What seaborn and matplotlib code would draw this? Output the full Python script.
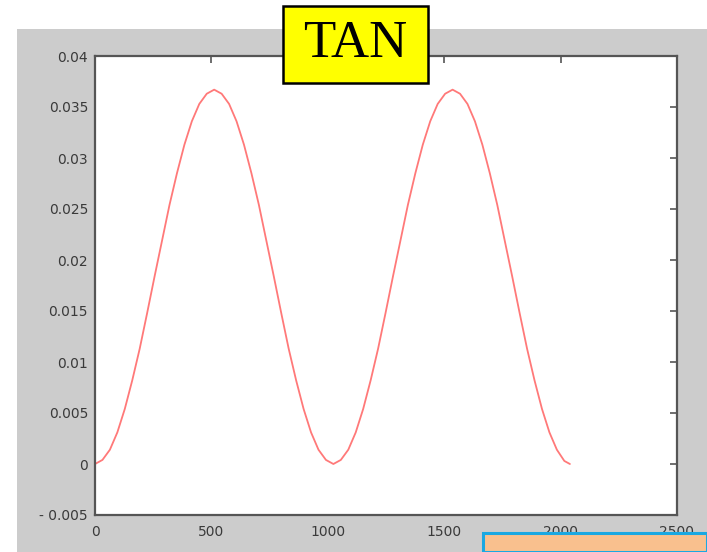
import matplotlib
matplotlib.use("Agg")
import matplotlib.pyplot as plt
import seaborn as sns
import pandas as pd
from matplotlib.patches import Rectangle

# ---- data ----
sample_index = [0, 32, 64, 96, 128, 160, 192, 224, 256, 288, 320, 352, 384, 416, 448, 480, 512,
                544, 576, 608, 640, 672, 704, 736, 768, 800, 832, 864, 896, 928, 960, 992, 1024,
                1056, 1088, 1120, 1152, 1184, 1216, 1248, 1280, 1312, 1344, 1376, 1408, 1440, 1472, 1504, 1536,
                1568, 1600, 1632, 1664, 1696, 1728, 1760, 1792, 1824, 1856, 1888, 1920, 1952, 1984, 2016, 2040]
tan_values = [0.0000, 0.0004, 0.0014, 0.0031, 0.0054, 0.0082, 0.0113, 0.0148, 0.0184, 0.0219, 0.0254, 0.0285, 0.0313, 0.0336, 0.0353, 0.0363, 0.0367,
              0.0363, 0.0353, 0.0336, 0.0313, 0.0285, 0.0254, 0.0219, 0.0184, 0.0148, 0.0113, 0.0082, 0.0054, 0.0031, 0.0014, 0.0004, 0.0000,
              0.0004, 0.0014, 0.0031, 0.0054, 0.0082, 0.0113, 0.0148, 0.0184, 0.0219, 0.0254, 0.0285, 0.0313, 0.0336, 0.0353, 0.0363, 0.0367,
              0.0363, 0.0353, 0.0336, 0.0313, 0.0285, 0.0254, 0.0219, 0.0184, 0.0148, 0.0113, 0.0082, 0.0054, 0.0031, 0.0014, 0.0003, 0.0000]
x_ticks = [0, 500, 1000, 1500, 2000, 2500]
x_tick_labels = ["0", "500", "1000", "1500", "2000", "2500"]
y_ticks = [-0.005, 0, 0.005, 0.01, 0.015, 0.02, 0.025, 0.03, 0.035, 0.04]
y_tick_labels = ["- 0.005", "0", "0.005", "0.01", "0.015", "0.02", "0.025", "0.03", "0.035", "0.04"]
title_text = "TAN"

df = pd.DataFrame({"n": sample_index, "value": tan_values})

sns.set_style("white")
plt.rcParams["font.family"] = ["DejaVu Sans"]

W, H = 707, 552
fig = plt.figure(figsize=(W / 100, H / 100), dpi=100)
fig.patch.set_facecolor("white")

def fx(px):
    return px / W

def fy(py):
    return 1 - py / H

# grey MATLAB figure panel
fig.patches.append(Rectangle((fx(17), 0), 1 - fx(17), fy(29), transform=fig.transFigure,
                             facecolor="#cccccc", edgecolor="none", zorder=-5))

ax = fig.add_axes([fx(95), fy(515), fx(677) - fx(95), fy(56) - fy(515)])
ax.set_zorder(1)
ax.set_facecolor("white")
sns.lineplot(data=df, x="n", y="value", ax=ax, color="#ff6a6a", linewidth=1.3, alpha=0.9)
ax.set_xlim(0, 2500)
ax.set_ylim(-0.005, 0.04)
ax.set_xticks(x_ticks)
ax.set_xticklabels(x_tick_labels)
ax.set_yticks(y_ticks)
ax.set_yticklabels(y_tick_labels)
ax.set_xlabel("")
ax.set_ylabel("")
for s in ax.spines.values():
    s.set_visible(True)
    s.set_color("#555555")
    s.set_linewidth(1.6)
ax.tick_params(direction="in", length=5, width=1.2, color="#555555",
               top=True, right=True, labelsize=10, labelcolor="#3a3a3a")
ax.tick_params(axis="x", pad=7)
ax.tick_params(axis="y", pad=5)

# yellow title box
fig.patches.append(Rectangle((fx(283), fy(83)), fx(428) - fx(283), fy(6) - fy(83),
                             transform=fig.transFigure, facecolor="#ffff00",
                             edgecolor="black", linewidth=1.8, zorder=5))
fig.text(fx(355.5), fy(44), title_text, ha="center", va="center", fontsize=38,
         family=["Liberation Serif", "DejaVu Serif"], color="black", zorder=6)

# orange box at bottom right
fig.patches.append(Rectangle((fx(483), 0), 1 - fx(483), fy(532.5), transform=fig.transFigure,
                             facecolor="#f9c08e", edgecolor="#1aa8e2", linewidth=2.2,
                             zorder=10, clip_on=False))

fig.savefig("out.png", dpi=100)
